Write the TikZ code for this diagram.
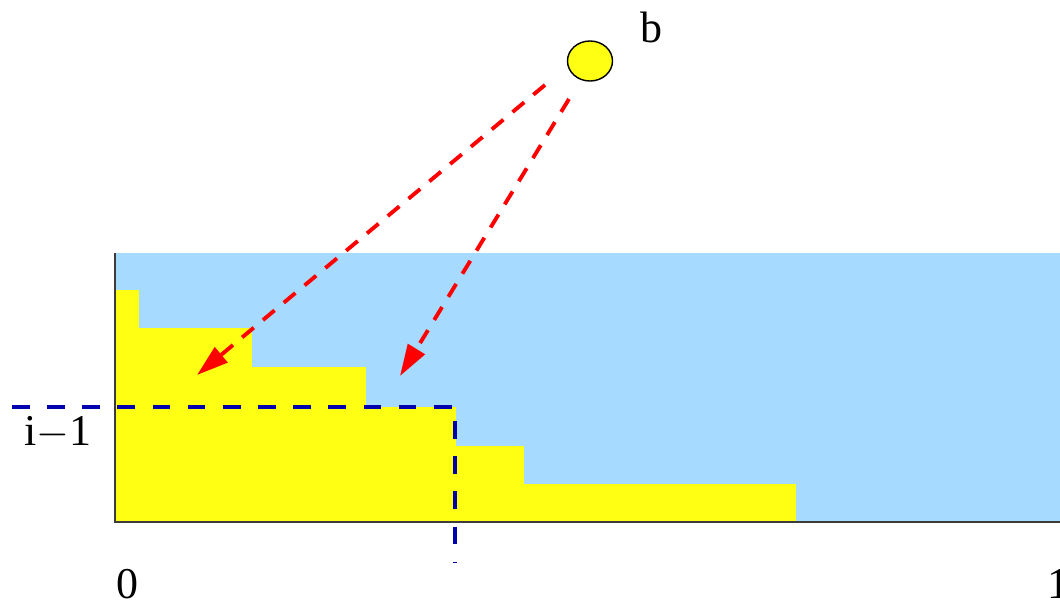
\documentclass[tikz,border=0pt]{standalone}
\usepackage{fontspec}
\setmainfont{Liberation Serif}
\usepackage{xcolor}
\usepackage{tikz}
\usetikzlibrary{shapes.geometric, arrows.meta, positioning}

\definecolor{skyfill}{RGB}{166,218,255}
\definecolor{stairyellow}{RGB}{255,255,20}
\definecolor{rayred}{RGB}{255,0,0}
\definecolor{cutblue}{RGB}{0,0,175}
\definecolor{axisgray}{RGB}{60,60,60}

\begin{document}
\begin{tikzpicture}[x=0.01cm, y=-0.01cm,
        ray/.style={draw=rayred, line width=1.1pt, dash pattern=on 4.3pt off 3.4pt, -{Triangle[length=9pt, width=5.5pt]}},
        cutline/.style={draw=cutblue, line width=1pt, dash pattern=on 5pt off 5pt},
        lbl/.style={font=\fontsize{12.5}{15}\selectfont, inner sep=0pt, anchor=base}]
        \useasboundingbox (0,0) rectangle (1060,603);

        % Box and staircase
        \fill[skyfill] (115,253) rectangle (1060,522);
        \foreach \xa/\xb/\yt in {115/138/290, 138/251/328, 251/365/367, 365/455/407, 455/523/446, 523/795/484} {
            \fill[stairyellow] (\xa,\yt) rectangle (\xb+1,522);
        }
        \draw[axisgray, line width=0.6pt] (115,253) -- (115,522) -- (1060,522);

        % Cut at i-1
        \coordinate (cl) at (12,407);
        \coordinate (cc) at (455,407);
        \coordinate (cb) at (455,562);
        \draw[cutline] (cl) -- (cc) -- (cb);

        % Ball and rays
        \node[draw, ellipse, fill=stairyellow, line width=0.4pt, minimum width=0.45cm, minimum height=0.4cm, inner sep=0pt] (ball) at (590,61) {};
        \node[lbl] (blbl) at (651,42) {b};
        \coordinate (r1s) at (545,85);
        \coordinate (r1e) at (197,375);
        \coordinate (r2s) at (569,99);
        \coordinate (r2e) at (400,376);
        \draw[ray] (r1s) -- (r1e);
        \draw[ray] (r2s) -- (r2e);

        % Labels
        \node[lbl] (ilbl) at (58,445) {i$-$1};
        \node[lbl] (zero) at (127,598) {0};
        \node[lbl, anchor=base west] (one) at (1047,598) {1};
    \end{tikzpicture}
\end{document}
